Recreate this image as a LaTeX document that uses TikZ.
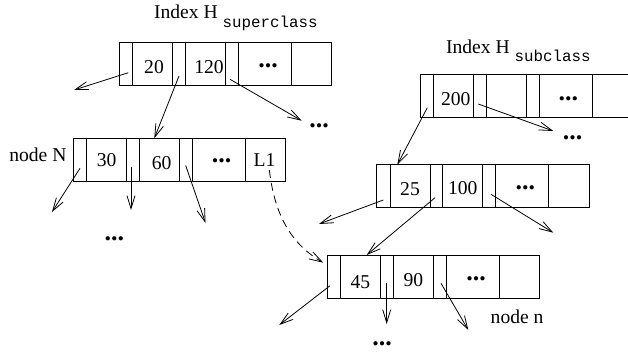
\documentclass[tikz,border=0pt]{standalone}
\usepackage{fontspec}
\setmainfont{Liberation Serif}
\newfontfamily\subfont{Liberation Mono}
\usetikzlibrary{arrows.meta}

% dividers of a record: pointer | key | pointer | key | pointer | key | last
\newcommand\recordcells[1]{%
  \foreach \d in {13.4,53.4,66.2,106.2,119,172.2}
    \draw[cellline] ([xshift=\d pt]#1.north west) -- ([xshift=\d pt]#1.south west);%
}

\begin{document}
\begin{tikzpicture}[x=1pt,y=-1pt,
  every node/.style={inner sep=0pt, outer sep=0pt, font=\fontsize{19.6}{22}\selectfont},
  lbl/.style={anchor=base},
  dots/.style={anchor=base, font=\fontsize{26}{28}\selectfont\bfseries},
  cellline/.style={line width=0.9pt},
  record/.style={draw, line width=0.9pt, minimum width=212.5pt, minimum height=43pt, anchor=north west},
  ptr/.style={line width=0.8pt, -{Straight Barb[length=13pt,width=8pt,line width=0.8pt]}},
  link/.style={ptr, dash pattern=on 8pt off 5pt},
]
\useasboundingbox (0,0) rectangle (628,353);
\clip (0,0) rectangle (628,353);

% titles and node names
\node[anchor=base west] (tsup) at (154,18.3) {Index H\kern5pt\raisebox{-9pt}{\subfont\fontsize{15.8}{18}\selectfont superclass}};
\node[anchor=base west] (tsub) at (446,53.3) {Index H\kern5pt\raisebox{-8.4pt}{\subfont\fontsize{15.8}{18}\selectfont subclass}};
\node[anchor=base west] (nN) at (9.3,161.7) {node N};
\node[anchor=base west] (nn) at (490.7,323.5) {node n};

% records
\node[record] (b1) at (119.3,42.7) {};
\node[record] (b2) at (73.3,138.3) {};
\node[record] (b3) at (420,74.3) {};
\node[record] (b4) at (376.7,164.7) {};
\node[record] (b5) at (327.3,255) {};
\recordcells{b1}
\recordcells{b2}
\recordcells{b3}
\recordcells{b4}
\recordcells{b5}

% keys
\node[lbl] (k20) at (154,73.3) {20};
\node[lbl] (k120) at (209,73) {120};
\node[lbl] (k30) at (106.7,166.7) {30};
\node[lbl] (k60) at (161.7,169.3) {60};
\node[lbl] (kL1) at (264.5,166.7) {L1};
\node[lbl] (k200) at (455.8,105) {200};
\node[lbl] (k25) at (410,195) {25};
\node[lbl] (k100) at (462.8,194.3) {100};
\node[lbl] (k45) at (360.3,288.3) {45};
\node[lbl] (k90) at (413.3,286) {90};

% ellipses
\node[dots] (d1) at (268,67.3) {...};
\node[dots] (d2) at (319,127.3) {...};
\node[dots] (d3) at (221.7,162.3) {...};
\node[dots] (d4) at (114.3,240.7) {...};
\node[dots] (d5) at (568.3,100.7) {...};
\node[dots] (d6) at (572.5,139) {...};
\node[dots] (d7) at (525.3,189) {...};
\node[dots] (d8) at (476.2,280.7) {...};
\node[dots] (d9) at (382,345) {...};

% pointer origins inside the pointer cells
\coordinate (p11) at (128.3,72.7);
\coordinate (p12) at (179,76);
\coordinate (p13) at (230,79.3);
\coordinate (p21) at (80,168.3);
\coordinate (p22) at (131,166.7);
\coordinate (p23) at (185.7,165.5);
\coordinate (pL1) at (269.3,170);
\coordinate (p31) at (427.3,107.7);
\coordinate (p32) at (478.3,104);
\coordinate (p41) at (383.3,200);
\coordinate (p42) at (435,197.7);
\coordinate (p43) at (491,194.3);
\coordinate (p51) at (330,285.7);
\coordinate (p52) at (386.7,283.3);
\coordinate (p53) at (441,283.3);

% free pointer ends
\coordinate (e11) at (74,90);
\coordinate (e13) at (301.7,120.7);
\coordinate (e21) at (52,212);
\coordinate (e22) at (131,210);
\coordinate (e23) at (205.5,223);
\coordinate (e32) at (553.3,131);
\coordinate (e41) at (319,224);
\coordinate (e43) at (553.3,232.7);
\coordinate (e51) at (279.3,325);
\coordinate (e52) at (386.7,324);
\coordinate (e53) at (468.3,330);

% pointers
\draw[ptr] (p11) -- (e11);
\draw[ptr] (p12) -- ([xshift=81pt]b2.north west);
\draw[ptr] (p13) -- (e13);
\draw[ptr] (p21) -- (e21);
\draw[ptr] (p22) -- (e22);
\draw[ptr] (p23) -- (e23);
\draw[link] (pL1) .. controls (275,218) and (293,245) .. ([xshift=-4pt,yshift=-7.7pt]b5.north west);
\draw[ptr] (p31) -- ([xshift=20.6pt]b4.north west);
\draw[ptr] (p32) -- (e32);
\draw[ptr] (p41) -- (e41);
\draw[ptr] (p42) -- ([xshift=39.4pt]b5.north west);
\draw[ptr] (p43) -- (e43);
\draw[ptr] (p51) -- (e51);
\draw[ptr] (p52) -- (e52);
\draw[ptr] (p53) -- (e53);
\end{tikzpicture}
\end{document}
